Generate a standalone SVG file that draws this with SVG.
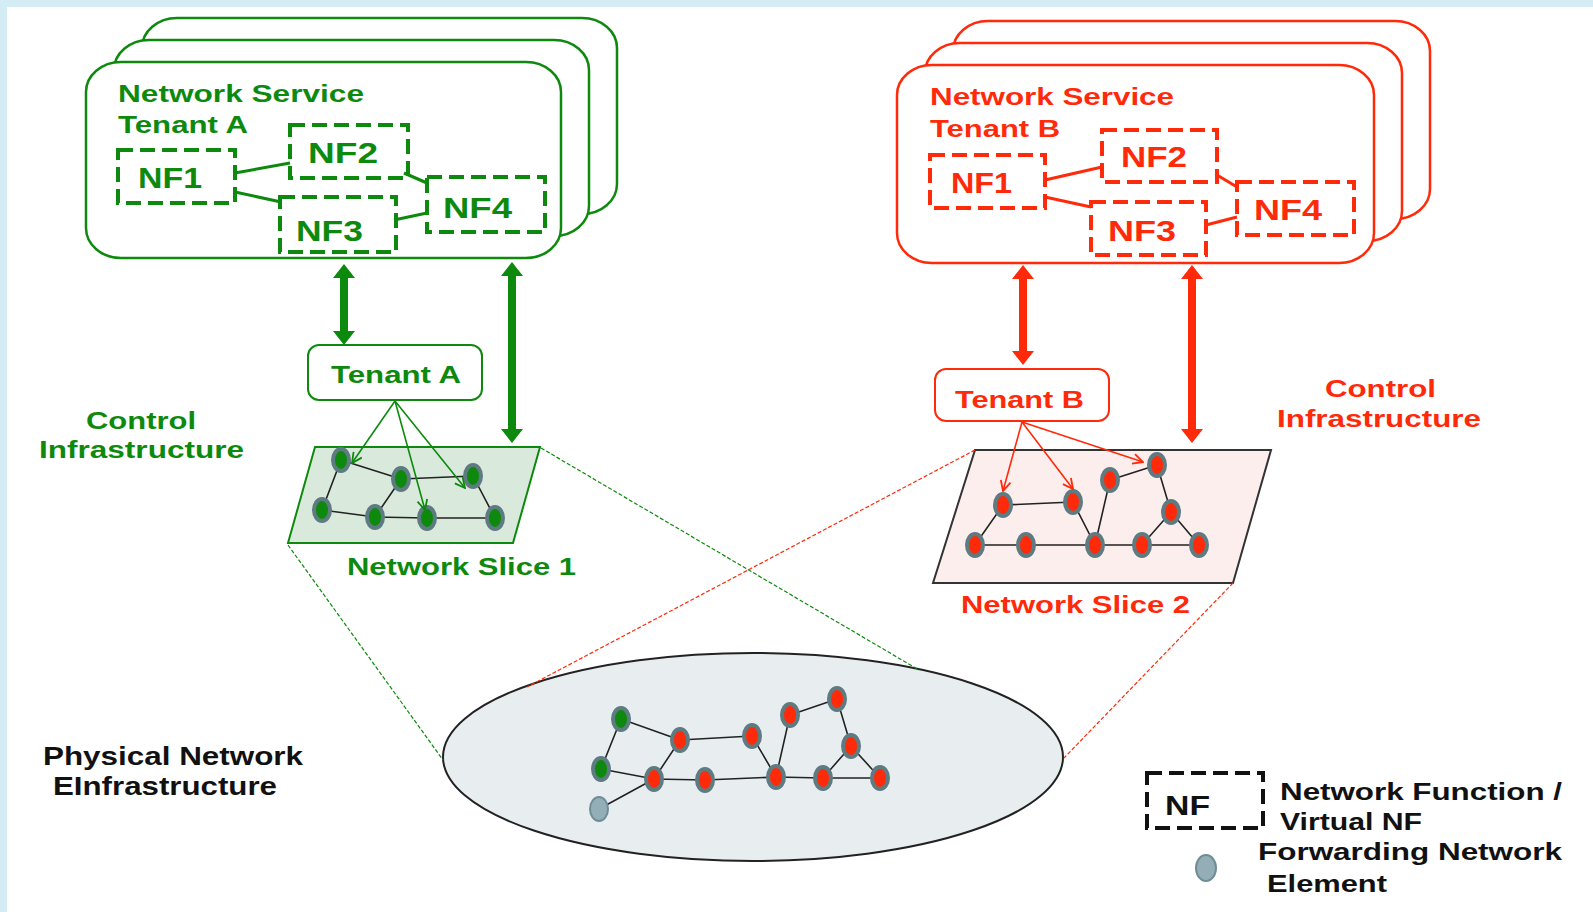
<svg xmlns="http://www.w3.org/2000/svg" width="1593" height="912" viewBox="0 0 1593 912">
<defs>
<style>
.t{font-family:"Liberation Sans",Arial,sans-serif;font-weight:bold;}
.g{fill:#0d8a0d;}
.r{fill:#ff2a0a;}
.k{fill:#111;}
.stackA{fill:#fff;stroke:#0d8a0d;stroke-width:2.5;}
.stackB{fill:#fff;stroke:#ff2a0a;stroke-width:2.5;}
.nfA{fill:none;stroke:#0d8a0d;stroke-width:4;stroke-dasharray:15 7;}
.nfB{fill:none;stroke:#ff2a0a;stroke-width:4;stroke-dasharray:15 7;}
.nfK{fill:none;stroke:#111;stroke-width:4;stroke-dasharray:15 7;}
.linkA{stroke:#0d8a0d;stroke-width:3;fill:none;}
.linkB{stroke:#ff2a0a;stroke-width:3;fill:none;}
.edge{stroke:#222;stroke-width:1.6;fill:none;}
.ng{fill:#0d8a0d;stroke:#5e7b82;stroke-width:4;}
.nr{fill:#ff2a0a;stroke:#5e7b82;stroke-width:4;}
.ngray{fill:#93aeb6;stroke:#6f8d95;stroke-width:2;}
.thinA{stroke:#0d8a0d;stroke-width:1.6;fill:none;marker-end:url(#vA);}
.thinB{stroke:#ff2a0a;stroke-width:1.6;fill:none;marker-end:url(#vB);}
.projA{stroke:#0d8a0d;stroke-width:1.2;stroke-dasharray:4 2;fill:none;}
.projB{stroke:#ff2a0a;stroke-width:1.2;stroke-dasharray:4 2;fill:none;}
</style>
<marker id="vA" viewBox="0 0 12 12" refX="11" refY="6" markerWidth="12" markerHeight="12" markerUnits="userSpaceOnUse" orient="auto">
<path d="M1,1 L11,6 L1,11" fill="none" stroke="#0d8a0d" stroke-width="1.8"/>
</marker>
<marker id="vB" viewBox="0 0 12 12" refX="11" refY="6" markerWidth="12" markerHeight="12" markerUnits="userSpaceOnUse" orient="auto">
<path d="M1,1 L11,6 L1,11" fill="none" stroke="#ff2a0a" stroke-width="1.8"/>
</marker>
</defs>
<rect x="0" y="0" width="1593" height="912" fill="#fff"/>
<rect x="0" y="0" width="1593" height="7" fill="#d4edf5"/>
<rect x="0" y="0" width="7" height="912" fill="#d4edf5"/>

<g id="stack-a">
<rect class="stackA" x="142" y="18" width="475" height="196" rx="35" ry="30"/>
<rect class="stackA" x="114" y="40" width="475" height="196" rx="35" ry="30"/>
<rect class="stackA" x="86" y="62" width="475" height="196" rx="35" ry="30"/>
<text class="t g" x="118" y="102" font-size="23" textLength="246" lengthAdjust="spacingAndGlyphs">Network Service</text>
<text class="t g" x="118" y="133" font-size="23" textLength="130" lengthAdjust="spacingAndGlyphs">Tenant A</text>
</g>
<g id="nf-a1"><rect class="nfA" x="118" y="150" width="117" height="53"/><text class="t g" x="138" y="188" font-size="29" textLength="64" lengthAdjust="spacingAndGlyphs">NF1</text></g>
<g id="nf-a2"><rect class="nfA" x="290" y="125" width="118" height="53"/><text class="t g" x="308" y="163" font-size="29" textLength="70" lengthAdjust="spacingAndGlyphs">NF2</text></g>
<g id="nf-a3"><rect class="nfA" x="280" y="197" width="116" height="55"/><text class="t g" x="296" y="241" font-size="29" textLength="67" lengthAdjust="spacingAndGlyphs">NF3</text></g>
<g id="nf-a4"><rect class="nfA" x="427" y="177" width="118" height="55"/><text class="t g" x="443" y="218" font-size="29" textLength="69" lengthAdjust="spacingAndGlyphs">NF4</text></g>

<g id="stack-b">
<rect class="stackB" x="953" y="21" width="477" height="198" rx="35" ry="30"/>
<rect class="stackB" x="925" y="43" width="477" height="198" rx="35" ry="30"/>
<rect class="stackB" x="897" y="65" width="477" height="198" rx="35" ry="30"/>
<text class="t r" x="930" y="105" font-size="23" textLength="244" lengthAdjust="spacingAndGlyphs">Network Service</text>
<text class="t r" x="930" y="137" font-size="23" textLength="130" lengthAdjust="spacingAndGlyphs">Tenant B</text>
</g>
<g id="nf-b1"><rect class="nfB" x="930" y="155" width="115" height="53"/><text class="t r" x="951" y="193" font-size="29" textLength="61" lengthAdjust="spacingAndGlyphs">NF1</text></g>
<g id="nf-b2"><rect class="nfB" x="1102" y="130" width="115" height="52"/><text class="t r" x="1121" y="167" font-size="29" textLength="66" lengthAdjust="spacingAndGlyphs">NF2</text></g>
<g id="nf-b3"><rect class="nfB" x="1091" y="202" width="115" height="53"/><text class="t r" x="1108" y="241" font-size="29" textLength="68" lengthAdjust="spacingAndGlyphs">NF3</text></g>
<g id="nf-b4"><rect class="nfB" x="1237" y="182" width="117" height="53"/><text class="t r" x="1254" y="220" font-size="29" textLength="68" lengthAdjust="spacingAndGlyphs">NF4</text></g>

<g id="tenant-a">
<rect x="308" y="345" width="174" height="55" rx="11" fill="#fff" stroke="#0d8a0d" stroke-width="2"/>
<text class="t g" x="331" y="383" font-size="24" textLength="130" lengthAdjust="spacingAndGlyphs">Tenant A</text>
</g>
<g id="tenant-b">
<rect x="935" y="369" width="174" height="52" rx="11" fill="#fff" stroke="#ff2a0a" stroke-width="2"/>
<text class="t r" x="955" y="408" font-size="24" textLength="129" lengthAdjust="spacingAndGlyphs">Tenant B</text>
</g>

<g id="label-control-a">
<text class="t g" x="86" y="429" font-size="23" textLength="110" lengthAdjust="spacingAndGlyphs">Control</text>
<text class="t g" x="39" y="458" font-size="23" textLength="205" lengthAdjust="spacingAndGlyphs">Infrastructure</text>
</g>
<g id="label-control-b">
<text class="t r" x="1325" y="397" font-size="23" textLength="111" lengthAdjust="spacingAndGlyphs">Control</text>
<text class="t r" x="1277" y="427" font-size="23" textLength="204" lengthAdjust="spacingAndGlyphs">Infrastructure</text>
</g>

<g id="slice-1">
<polygon points="315,447 540,447 513,543 288,543" fill="#d9eadc" stroke="#0d8a0d" stroke-width="2"/>
<path class="edge" d="M341,460 L401,479 M341,460 L322,510 M401,479 L473,476 M401,479 L375,517 M473,476 L495,518 M322,510 L375,517 M375,517 L427,518 M427,518 L495,518"/>
<ellipse class="ng" cx="341" cy="460" rx="8" ry="11"/>
<ellipse class="ng" cx="401" cy="479" rx="8" ry="11"/>
<ellipse class="ng" cx="473" cy="476" rx="8" ry="11"/>
<ellipse class="ng" cx="322" cy="510" rx="8" ry="11"/>
<ellipse class="ng" cx="375" cy="517" rx="8" ry="11"/>
<ellipse class="ng" cx="427" cy="518" rx="8" ry="11"/>
<ellipse class="ng" cx="495" cy="518" rx="8" ry="11"/>
<text class="t g" x="347" y="575" font-size="23" textLength="229" lengthAdjust="spacingAndGlyphs">Network Slice 1</text>
</g>

<g id="slice-2">
<polygon points="975,450 1271,450 1233,583 933,583" fill="#fdeeee" stroke="#333" stroke-width="2"/>
<path class="edge" d="M1003,505 L1073,502 M1003,505 L975,545 M975,545 L1026,545 M1026,545 L1095,545 M1073,502 L1095,545 M1095,545 L1110,480 M1110,480 L1157,465 M1157,465 L1171,512 M1171,512 L1142,545 M1171,512 L1199,545 M1095,545 L1142,545 M1142,545 L1199,545"/>
<ellipse class="nr" cx="1003" cy="505" rx="8" ry="11"/>
<ellipse class="nr" cx="1073" cy="502" rx="8" ry="11"/>
<ellipse class="nr" cx="1110" cy="480" rx="8" ry="11"/>
<ellipse class="nr" cx="1157" cy="465" rx="8" ry="11"/>
<ellipse class="nr" cx="1171" cy="512" rx="8" ry="11"/>
<ellipse class="nr" cx="975" cy="545" rx="8" ry="11"/>
<ellipse class="nr" cx="1026" cy="545" rx="8" ry="11"/>
<ellipse class="nr" cx="1095" cy="545" rx="8" ry="11"/>
<ellipse class="nr" cx="1142" cy="545" rx="8" ry="11"/>
<ellipse class="nr" cx="1199" cy="545" rx="8" ry="11"/>
<text class="t r" x="961" y="613" font-size="23" textLength="229" lengthAdjust="spacingAndGlyphs">Network Slice 2</text>
</g>

<g id="physical-network">
<ellipse cx="753" cy="757" rx="310" ry="104" fill="#e8eef0" stroke="#222" stroke-width="2"/>
<path class="edge" d="M621,719 L680,740 M621,719 L601,769 M601,769 L654,779 M599,809 L654,779 M654,779 L680,740 M654,779 L705,780 M680,740 L752,736 M752,736 L776,777 M705,780 L776,777 M776,777 L790,715 M790,715 L837,699 M837,699 L851,746 M851,746 L823,778 M851,746 L880,778 M776,777 L823,778 M823,778 L880,778"/>
<ellipse class="ng" cx="621" cy="719" rx="8" ry="11"/>
<ellipse class="ng" cx="601" cy="769" rx="8" ry="11"/>
<ellipse class="ngray" cx="599" cy="809" rx="9" ry="12"/>
<ellipse class="nr" cx="680" cy="740" rx="8" ry="11"/>
<ellipse class="nr" cx="752" cy="736" rx="8" ry="11"/>
<ellipse class="nr" cx="790" cy="715" rx="8" ry="11"/>
<ellipse class="nr" cx="837" cy="699" rx="8" ry="11"/>
<ellipse class="nr" cx="851" cy="746" rx="8" ry="11"/>
<ellipse class="nr" cx="654" cy="779" rx="8" ry="11"/>
<ellipse class="nr" cx="705" cy="780" rx="8" ry="11"/>
<ellipse class="nr" cx="776" cy="777" rx="8" ry="11"/>
<ellipse class="nr" cx="823" cy="778" rx="8" ry="11"/>
<ellipse class="nr" cx="880" cy="778" rx="8" ry="11"/>
</g>
<g id="label-physical">
<text class="t k" x="43" y="765" font-size="25" textLength="260" lengthAdjust="spacingAndGlyphs">Physical Network</text>
<text class="t k" x="53" y="795" font-size="25" textLength="224" lengthAdjust="spacingAndGlyphs">EInfrastructure</text>
</g>

<g id="legend">
<rect class="nfK" x="1147" y="773" width="116" height="55"/>
<text class="t k" x="1165" y="815" font-size="28" textLength="45" lengthAdjust="spacingAndGlyphs">NF</text>
<text class="t k" x="1280" y="800" font-size="24" textLength="282" lengthAdjust="spacingAndGlyphs">Network Function /</text>
<text class="t k" x="1280" y="830" font-size="24" textLength="142" lengthAdjust="spacingAndGlyphs">Virtual NF</text>
<text class="t k" x="1258" y="860" font-size="24" textLength="304" lengthAdjust="spacingAndGlyphs">Forwarding Network</text>
<text class="t k" x="1267" y="892" font-size="24" textLength="120" lengthAdjust="spacingAndGlyphs">Element</text>
<ellipse class="ngray" cx="1206" cy="868" rx="10" ry="13"/>
</g>

<g id="connectors">
<path class="linkA" d="M235,173 L290,163 M235,192 L281,202 M404,173 L427,183 M394,220 L427,213"/>
<path class="linkB" d="M1045,180 L1102,167 M1045,197 L1091,207 M1217,175 L1237,187 M1206,225 L1237,217"/>
<polygon fill="#0d8a0d" points="344,264 355,278 348,278 348,331 355,331 344,345 333,331 340,331 340,278 333,278"/>
<polygon fill="#0d8a0d" points="512,262 523,276 516,276 516,429 523,429 512,443 501,429 508,429 508,276 501,276"/>
<polygon fill="#ff2a0a" points="1023,265 1034,279 1027,279 1027,351 1034,351 1023,365 1012,351 1019,351 1019,279 1012,279"/>
<polygon fill="#ff2a0a" points="1192,265 1203,279 1196,279 1196,429 1203,429 1192,443 1181,429 1188,429 1188,279 1181,279"/>
<path class="thinA" d="M395,401 L352,463"/>
<path class="thinA" d="M395,401 L425,510"/>
<path class="thinA" d="M395,401 L465,488"/>
<path class="thinB" d="M1022,422 L1003,491"/>
<path class="thinB" d="M1022,422 L1073,489"/>
<path class="thinB" d="M1022,422 L1143,462"/>
<path class="projA" d="M541,448 L919,670"/>
<path class="projA" d="M288,545 L443,760"/>
<path class="projB" d="M975,450 L527,687"/>
<path class="projB" d="M1233,583 L1064,758"/>
</g>
</svg>
